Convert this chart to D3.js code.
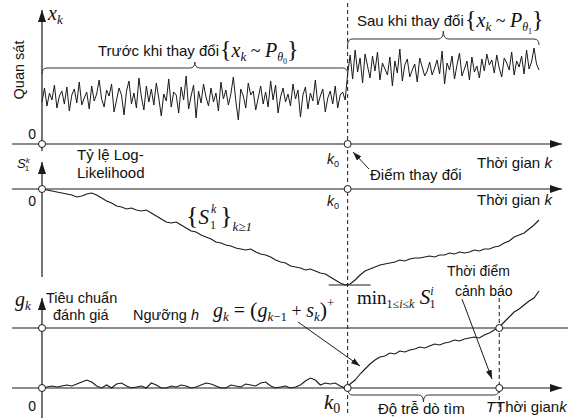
<!DOCTYPE html>
<html>
<head>
<meta charset="utf-8">
<script src="https://cdn.jsdelivr.net/npm/d3@7"></script>
<style>
  body { margin: 0; background: #fff; }
  text { font-family: "Liberation Sans", Arial, sans-serif; fill: #111; }
</style>
</head>
<body>
<svg width="568" height="420"></svg>
<script>
// time index, change point and alarm time
const horizon = 200
const changePoint = 123
const alarmTime = 184

// observations x_k before / after the change
const obsBefore = [4.2,5.6,3.8,5.1,4.4,5.9,3.6,4.8,5.3,4.0,
    5.7,3.3,4.9,5.5,4.1,6.2,3.9,4.6,5.2,3.5,
    5.8,4.3,5.0,6.4,4.5,3.7,5.4,4.8,6.0,3.2,
    4.4,5.6,4.9,2.9,5.3,6.3,4.0,5.1,3.6,6.6,
    4.7,3.4,5.8,4.2,5.5,3.9,6.1,4.6,2.8,5.0,
    4.3,6.5,3.7,5.2,4.9,3.1,5.7,4.4,6.8,3.5,
    4.8,5.9,2.6,5.3,4.1,6.0,4.7,3.8,5.6,4.2,
    5.1,3.3,6.2,4.5,5.4,3.9,5.0,6.7,4.3,2.4,
    5.5,4.8,3.6,6.1,4.9,5.3,3.4,4.6,5.8,4.0,
    5.2,3.7,6.3,4.4,5.9,3.1,4.7,5.6,4.2,5.0,
    3.8,6.0,4.5,5.4,2.7,4.9,5.7,3.5,5.1,4.3,
    6.4,3.9,4.8,5.5,3.2,4.6,5.3,4.0,5.8,3.6,
    4.9,5.2,4.4]
const obsAfter = [7.0,8.9,6.5,9.4,7.2,8.6,6.1,9.0,7.8,6.6,
    8.8,7.3,9.2,6.4,8.1,7.5,6.9,8.7,5.8,8.3,
    7.1,9.5,6.3,7.9,8.5,6.7,7.4,8.0,6.2,8.6,
    7.7,6.8,7.3,8.2,6.9,7.6,8.4,7.0,9.3,6.0,
    8.1,7.4,8.8,6.5,7.9,9.1,6.8,7.5,8.3,6.4,
    8.7,7.2,7.8,6.6,8.5,7.3,9.0,7.9,8.4,7.1,
    8.9,7.6,6.7,8.6,8.1,7.4,9.2,6.9,8.3,7.7,
    8.8,7.0,9.4,7.5,8.2,9.6,8.0,7.4]

// log-likelihood ratio S_1^k, sampled every 2 steps
const sStep = 2
const logLik = [0,-0.1,-0.2,-0.3,-0.4,-0.5,-0.6,-0.8,-0.7,-0.5,
    -0.4,-0.6,-0.9,-1.2,-1.4,-1.7,-1.8,-2.0,-1.9,-2.1,
    -2.2,-2.1,-2.4,-2.7,-3.0,-3.3,-3.4,-3.3,-3.6,-3.9,
    -4.2,-4.3,-4.6,-4.8,-5.0,-5.3,-5.4,-5.6,-5.7,-5.9,
    -6.0,-6.1,-6.0,-6.3,-6.5,-6.6,-6.8,-7.1,-7.3,-7.4,
    -7.7,-7.8,-7.9,-8.1,-8.0,-8.2,-8.4,-8.5,-8.8,-9.1,
    -9.4,-9.6,-9.5,-9.1,-8.6,-8.2,-8.0,-7.8,-7.6,-7.5,
    -7.4,-7.3,-7.1,-7.2,-7.0,-6.9,-6.9,-6.8,-6.7,-6.8,
    -6.6,-6.6,-6.4,-6.5,-6.3,-6.4,-6.3,-6.1,-6.2,-6.0,
    -6.0,-5.8,-5.7,-5.4,-5.2,-4.8,-4.6,-4.4,-4.0,-3.6,-3.1]

// CUSUM statistic g_k, sampled every 2 steps
const cusum = [0,0.1,0.2,0.1,0.2,0.3,0.2,0.4,0.6,0.8,
    0.6,0.2,0,0.3,0,0.4,0.5,0.2,0,0.1,
    0.2,0,0.5,0.3,0,0,0.2,0.1,0.3,0.2,
    0,0.1,0.3,0.5,0.4,0.2,0,0,0.3,0.2,
    0.1,0.4,0.3,0.2,0.5,0.6,0.2,0,0.1,0.2,
    0,0.1,0.3,0.7,1.0,0.8,0.3,0.5,0.4,0.5,
    0.2,0,0.4,0.8,1.4,1.9,2.4,2.8,3.1,3.2,
    3.5,3.4,3.7,3.6,3.8,3.9,4.1,4.0,4.2,4.4,
    4.3,4.5,4.6,4.8,4.7,4.9,5.0,5.1,5.0,5.3,
    5.5,5.8,6.1,6.6,7.1,7.6,7.9,8.3,8.7,9.0,9.7]
const threshold = 6

const svg = d3.select("svg")
const ink = "#1a1a1a"

const x = d3.scaleLinear().domain([0, horizon]).range([42, 539])
const yObs = d3.scaleLinear().domain([0, 10]).range([144, 44])
const yS = d3.scaleLinear().domain([0, -10]).range([189, 289])
const yG = d3.scaleLinear().domain([0, 10]).range([388, 288])

const defs = svg.append("defs")
function marker(id, w, h) {
    defs.append("marker")
        .attr("id", id)
        .attr("markerUnits", "userSpaceOnUse")
        .attr("markerWidth", w).attr("markerHeight", h)
        .attr("viewBox", `0 0 ${w} ${h}`)
        .attr("refX", w).attr("refY", h / 2)
        .attr("orient", "auto")
        .append("path")
        .attr("d", `M0,0 L${w},${h / 2} L0,${h} Z`)
        .attr("fill", ink)
}
marker("axisArrow", 12, 8)
marker("smallArrow", 9, 6)

function line(x1, y1, x2, y2) {
    return svg.append("line")
        .attr("x1", x1).attr("y1", y1).attr("x2", x2).attr("y2", y2)
        .attr("stroke", ink).attr("stroke-width", 1.2)
}

// horizontal axes
const x0 = x(0), xk0 = x(changePoint), xT = x(alarmTime)
line(12, yObs(0), 562, yObs(0)).attr("marker-end", "url(#axisArrow)")
line(12, yS(0), 562, yS(0)).attr("marker-end", "url(#axisArrow)")
line(12, yG(threshold), 568, yG(threshold))
line(12, yG(0), 562, yG(0)).attr("marker-end", "url(#axisArrow)")

// vertical axes
line(x0, 151, x0, 10).attr("marker-end", "url(#axisArrow)")
line(x0, 277, x0, 162).attr("marker-end", "url(#axisArrow)")
line(x0, 418, x0, 298).attr("marker-end", "url(#axisArrow)")

// dashed markers for k0 and T
line(xk0, 3, xk0, 416).attr("stroke-dasharray", "4,3").attr("stroke-width", 1)
line(xT, 298, xT, 416).attr("stroke-dasharray", "4,3").attr("stroke-width", 1)

// signals
const obs = obsBefore.concat(obsAfter)
svg.append("path")
    .datum(obs)
    .attr("d", d3.line().x((d, i) => x(i)).y(d => yObs(d)))
    .attr("fill", "none").attr("stroke", ink).attr("stroke-width", 1)

svg.append("path")
    .datum(logLik)
    .attr("d", d3.line().x((d, i) => x(i * sStep)).y(d => yS(d)))
    .attr("fill", "none").attr("stroke", ink).attr("stroke-width", 1.1)

svg.append("path")
    .datum(cusum)
    .attr("d", d3.line().x((d, i) => x(i * sStep)).y(d => yG(d)))
    .attr("fill", "none").attr("stroke", ink).attr("stroke-width", 1.1)

// minimum of S
const sMin = d3.min(logLik)
line(xk0 - 19, yS(sMin), xk0 + 23, yS(sMin)).attr("stroke-width", 1)

// curly braces
function brace(x1, x2, yEnd, yBody, yTip) {
    const xm = (x1 + x2) / 2, r = 5
    const d = `M${x1},${yEnd} Q${x1},${yBody} ${x1 + r},${yBody} L${xm - r},${yBody} ` +
        `Q${xm},${yBody} ${xm},${yTip} Q${xm},${yBody} ${xm + r},${yBody} ` +
        `L${x2 - r},${yBody} Q${x2},${yBody} ${x2},${yEnd}`
    svg.append("path").attr("d", d).attr("fill", "none")
        .attr("stroke", "#333").attr("stroke-width", 1)
}
brace(x0, xk0, 74, 68, 62)
brace(xk0, x(horizon), 45, 39, 31)
brace(xk0, xT, 388, 395, 402)

// open circles
const dots = [[x0, yObs(0)], [xk0, yObs(0)], [x0, yS(0)], [xk0, yS(0)],
    [x0, yG(threshold)], [xT, yG(threshold)], [x0, yG(0)], [xk0, yG(0)], [xT, yG(0)]]
svg.selectAll("circle.dot").data(dots).enter().append("circle")
    .attr("cx", d => d[0]).attr("cy", d => d[1]).attr("r", 3.5)
    .attr("fill", "#fff").attr("stroke", ink).attr("stroke-width", 1)

// rich text helper: parts = [text, size, italic, shift, serif, dx]
function rich(px, py, parts) {
    const t = svg.append("text").attr("x", px).attr("y", py)
    let cur = 0
    parts.forEach(p => {
        const [s, size, it, shift = 0, serif = true, dx = 0] = p
        const span = t.append("tspan")
            .attr("dy", shift - cur)
            .attr("font-size", size)
            .attr("font-style", it ? "italic" : "normal")
            .attr("font-family", serif ? "Liberation Serif, Times New Roman, serif"
                : "Liberation Sans, Arial, sans-serif")
            .text(s)
        if (dx) span.attr("dx", dx)
        cur = shift
    })
    return t
}
function label(px, py, s, size = 15, anchor = "start") {
    return svg.append("text").attr("x", px).attr("y", py)
        .attr("font-size", size).attr("text-anchor", anchor).text(s)
}

// panel 1
rich(48, 20, [["x", 20, true], ["k", 13, true, 4]])
svg.append("text").attr("transform", "translate(24,70) rotate(-90)")
    .attr("font-size", 14.5).attr("text-anchor", "middle").text("Quan sát")
label(36, 139, "0", 14, "end")
label(98, 56, "Trước khi thay đổi")
rich(220, 57, [["{", 24, false], ["x", 20, true], ["k", 13, true, 4], [" ~ ", 18, false, 0],
    ["P", 20, true], ["θ", 12, true, 4], ["0", 8, false, 7], ["}", 24, false, 0]])
label(357, 26, "Sau khi thay đổi")
rich(465, 27, [["{", 24, false], ["x", 20, true], ["k", 13, true, 4], [" ~ ", 18, false, 0],
    ["P", 20, true], ["θ", 12, true, 4], ["1", 8, false, 7], ["}", 24, false, 0]])

// panel 2
rich(327, 164, [["k", 14, true, 0, false], ["0", 9, false, 3, false]])
rich(327, 206, [["k", 14, true, 0, false], ["0", 9, false, 3, false]])
label(477, 168, "Thời gian ").append("tspan").attr("font-style", "italic").text("k")
label(477, 205, "Thời gian ").append("tspan").attr("font-style", "italic").text("k")
label(370, 180, "Điểm thay đổi")
line(369, 169, 353, 152).attr("stroke-width", 1).attr("marker-end", "url(#smallArrow)")
rich(17, 168, [["S", 13, true, 0, false], ["k", 8, true, -5, false], ["1", 8, false, 3, false, -5]])
label(77, 160, "Tỷ lệ Log-")
label(77, 178, "Likelihood")
label(36, 206, "0", 14, "end")
// {S_1^k}_{k>=1}: scripts kept as separate texts so they can stack
rich(186, 224, [["{", 26, false], ["S", 21, true]])
rich(211, 213, [["k", 12, true]])
rich(210, 229, [["1", 12, false]])
rich(220, 224, [["}", 26, false], ["k≥1", 13, true, 7]])
rich(357, 304, [["min", 19, false], ["1≤", 12, false, 4], ["i", 12, true, 4], ["≤", 12, false, 4],
    ["k", 12, true, 4], [" S", 21, true, 0], ["i", 12, true, -9], ["1", 12, false, 4, true, -4]])

// panel 3
rich(15, 306, [["g", 20, true], ["k", 13, true, 4]])
label(46, 303, "Tiêu chuẩn", 14.5)
label(53, 320, "đánh giá", 14.5)
label(133, 320, "Ngưỡng ", 14.5).append("tspan").attr("font-style", "italic").text("h")
rich(213, 317, [["g", 20, true], ["k", 13, true, 4], [" = ", 20, false, 0], ["(", 22, false, 0],
    ["g", 20, true, 0], ["k", 13, true, 4], ["−1", 13, false, 4], [" + ", 18, false, 0],
    ["s", 20, true, 0], ["k", 13, true, 4], [")", 22, false, 0], ["+", 13, false, -10]])
line(298, 322, 360, 366).attr("stroke-width", 1).attr("marker-end", "url(#smallArrow)")
label(447, 276, "Thời điểm", 14)
label(455, 296, "cảnh báo", 14)
line(462, 299, 492, 379).attr("stroke-width", 1).attr("marker-end", "url(#smallArrow)")
label(36, 411, "0", 14, "end")
rich(324, 409, [["k", 21, true], ["0", 14, false, 4]])
label(378, 414, "Độ trễ dò tìm")
rich(486, 412, [["T", 15, true, 0, false]])
label(496, 412, "Thời gian").append("tspan").attr("font-style", "italic").text("k")
</script>
</body>
</html>
